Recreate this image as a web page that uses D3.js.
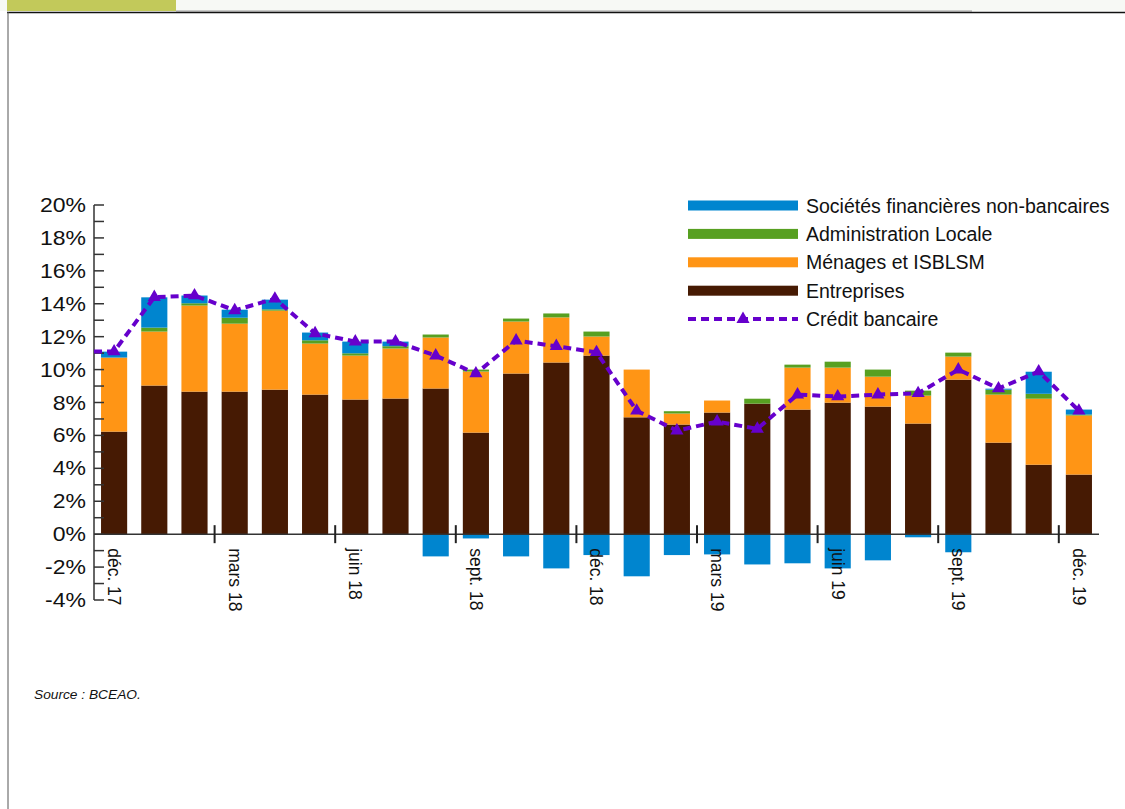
<!DOCTYPE html>
<html>
<head>
<meta charset="utf-8">
<script src="https://cdn.jsdelivr.net/npm/d3@7"></script>
<style>
  html, body { margin: 0; padding: 0; background: #ffffff; }
  svg { display: block; font-family: "Liberation Sans", Arial, sans-serif; }
</style>
</head>
<body>
<svg id="chart" width="1125" height="809"></svg>
<script>
// Monthly contributions to bank credit growth (%), Dec 2017 – Dec 2019
const months = ["déc. 17","janv. 18","févr. 18","mars 18","avr. 18","mai 18","juin 18","juil. 18","août 18",
  "sept. 18","oct. 18","nov. 18","déc. 18","janv. 19","févr. 19","mars 19","avr. 19","mai 19","juin 19",
  "juil. 19","août 19","sept. 19","oct. 19","nov. 19","déc. 19"];
const tickMonths = ["déc. 17","mars 18","juin 18","sept. 18","déc. 18","mars 19","juin 19","sept. 19","déc. 19"];

const entreprises = [6.23, 9.03, 8.66, 8.66, 8.78, 8.48, 8.18, 8.24, 8.85, 6.17, 9.76, 10.43, 10.85,
  7.10, 6.66, 7.39, 7.93, 7.57, 7.99, 7.75, 6.72, 9.39, 5.56, 4.22, 3.62];
const menages = [4.50, 3.28, 5.23, 4.13, 4.80, 3.10, 2.67, 3.04, 3.10, 3.71, 3.16, 2.74, 1.16,
  2.90, 0.67, 0.73, 0.00, 2.55, 2.13, 1.82, 1.70, 1.40, 2.92, 4.01, 3.59];
const adminLocale = [0.00, 0.24, 0.14, 0.36, 0.08, 0.20, 0.14, 0.14, 0.18, 0.12, 0.18, 0.24, 0.30,
  0.00, 0.14, 0.00, 0.30, 0.18, 0.36, 0.43, 0.30, 0.24, 0.30, 0.30, 0.06];
const societesFin = [0.36, 1.84, 0.47, 0.49, 0.59, 0.47, 0.71, 0.28, -1.35, -0.26, -1.35, -2.08, -1.27,
  -2.56, -1.27, -1.23, -1.84, -1.77, -2.08, -1.59, -0.19, -1.10, 0.06, 1.34, 0.30];
const creditBancaire = [11.1, 14.4, 14.5, 13.6, 14.3, 12.2, 11.7, 11.7, 10.85, 9.76, 11.76, 11.42, 11.05,
  7.5, 6.29, 6.84, 6.4, 8.48, 8.36, 8.48, 8.56, 10.0, 8.85, 9.88, 7.5];

const yTicks = [-4, -2, 0, 2, 4, 6, 8, 10, 12, 14, 16, 18, 20];

const seriesInfo = [
  { key: "societes", label: "Sociétés financières non-bancaires", color: "#0085cf", values: societesFin },
  { key: "admin", label: "Administration Locale", color: "#57a021", values: adminLocale },
  { key: "menages", label: "Ménages et ISBLSM", color: "#ff9515", values: menages },
  { key: "entreprises", label: "Entreprises", color: "#461a03", values: entreprises }
];
const lineColor = "#6600cc";

const svg = d3.select("#chart");

// page frame and header strip
svg.append("rect").attr("x", 0).attr("y", 0).attr("width", 1125).attr("height", 11).attr("fill", "#f7f9f5");
svg.append("rect").attr("x", 7).attr("y", 0).attr("width", 169).attr("height", 11).attr("fill", "#c2c95a");
svg.append("line").attr("x1", 176).attr("x2", 972).attr("y1", 11).attr("y2", 11)
  .attr("stroke", "#9a9a9a").attr("stroke-width", 1);
svg.append("line").attr("x1", 7).attr("x2", 1125).attr("y1", 12.5).attr("y2", 12.5)
  .attr("stroke", "#111").attr("stroke-width", 1.5);
svg.append("line").attr("x1", 8).attr("x2", 8).attr("y1", 12).attr("y2", 809)
  .attr("stroke", "#555").attr("stroke-width", 1);

// scales
const x = d3.scaleBand().domain(months).range([94, 1099]).paddingInner(0.35).paddingOuter(0.175);
const y = d3.scaleLinear().domain([-4, 20]).range([600, 205]);

// stacked bars
const rows = months.map((m, i) => ({
  month: m,
  entreprises: entreprises[i],
  menages: menages[i],
  admin: adminLocale[i],
  societes: societesFin[i]
}));
const stackOrder = ["entreprises", "menages", "admin", "societes"];
const stacked = d3.stack().keys(stackOrder).offset(d3.stackOffsetDiverging)(rows);
const colorOf = Object.fromEntries(seriesInfo.map(s => [s.key, s.color]));

svg.append("g").selectAll("g").data(stacked).join("g")
  .attr("fill", d => colorOf[d.key])
  .selectAll("rect").data(d => d).join("rect")
  .attr("x", d => x(d.data.month))
  .attr("width", x.bandwidth())
  .attr("y", d => y(Math.max(d[0], d[1])))
  .attr("height", d => Math.abs(y(d[0]) - y(d[1])));

// y axis: line, ticks every 1% pointing inward, labels every 2%
const yAxisG = svg.append("g");
yAxisG.append("line").attr("x1", 94).attr("x2", 94).attr("y1", y(20)).attr("y2", y(-4))
  .attr("stroke", "#333").attr("stroke-width", 1.5);
yAxisG.selectAll("line.tick").data(d3.range(-4, 21, 1)).join("line")
  .attr("class", "tick")
  .attr("x1", 94).attr("x2", 104)
  .attr("y1", d => y(d)).attr("y2", d => y(d))
  .attr("stroke", "#333").attr("stroke-width", 1.5);
yAxisG.selectAll("text").data(yTicks).join("text")
  .attr("transform", d => `translate(86,${y(d)}) scale(1.18,1)`)
  .attr("text-anchor", "end")
  .attr("dy", "0.36em")
  .attr("font-size", 19.5)
  .attr("fill", "#111")
  .text(d => d + "%");

// x axis along zero with quarter ticks at band boundaries
const step = x.step();
const x0 = x.range()[0];
const xAxisG = svg.append("g");
xAxisG.append("line").attr("x1", x0).attr("x2", x.range()[1]).attr("y1", y(0)).attr("y2", y(0))
  .attr("stroke", "#333").attr("stroke-width", 1.5);
xAxisG.selectAll("line.qtick").data(tickMonths.slice(1)).join("line")
  .attr("class", "qtick")
  .attr("x1", d => x0 + months.indexOf(d) * step)
  .attr("x2", d => x0 + months.indexOf(d) * step)
  .attr("y1", y(0) - 9).attr("y2", y(0) + 9)
  .attr("stroke", "#222").attr("stroke-width", 2);
xAxisG.selectAll("text").data(tickMonths).join("text")
  .attr("transform", d => `translate(${x(d) + x.bandwidth() / 2},${y(0) + 14}) rotate(90)`)
  .attr("text-anchor", "start")
  .attr("dy", "0.35em")
  .attr("font-size", 17.5)
  .attr("fill", "#111")
  .text(d => d);

// credit line (dashed) with triangle markers
const pts = months.map((m, i) => [x(m) + x.bandwidth() / 2, y(creditBancaire[i])]);
const linePts = [[x0, y(creditBancaire[0])], ...pts];
svg.append("path")
  .attr("d", d3.line()(linePts))
  .attr("fill", "none")
  .attr("stroke", lineColor)
  .attr("stroke-width", 4)
  .attr("stroke-dasharray", "8,5");
const tri = d3.symbol().type(d3.symbolTriangle).size(75);
svg.append("g").selectAll("path").data(pts).join("path")
  .attr("transform", d => `translate(${d[0]},${d[1]})`)
  .attr("d", tri())
  .attr("fill", lineColor);

// legend
const legend = svg.append("g");
const legY0 = 205.5, legStep = 28.4;
seriesInfo.forEach((s, i) => {
  const ly = legY0 + i * legStep;
  legend.append("rect").attr("x", 688).attr("y", ly - 5).attr("width", 110).attr("height", 10).attr("fill", s.color);
  legend.append("text").attr("x", 806).attr("y", ly).attr("dy", "0.36em")
    .attr("font-size", 19.5).attr("fill", "#111").text(s.label);
});
const lly = legY0 + 4 * legStep;
legend.append("line").attr("x1", 688).attr("x2", 798).attr("y1", lly).attr("y2", lly)
  .attr("stroke", lineColor).attr("stroke-width", 4).attr("stroke-dasharray", "8,5");
legend.append("path").attr("transform", `translate(743,${lly})`).attr("d", tri()).attr("fill", lineColor);
legend.append("text").attr("x", 806).attr("y", lly).attr("dy", "0.36em")
  .attr("font-size", 19.5).attr("fill", "#111").text("Crédit bancaire");

// source note
svg.append("text").attr("x", 34).attr("y", 699)
  .attr("font-size", 12.5).attr("font-style", "italic").attr("fill", "#111")
  .attr("transform", "translate(34,0) scale(1.1,1) translate(-34,0)")
  .text("Source : BCEAO.");
</script>
</body>
</html>
